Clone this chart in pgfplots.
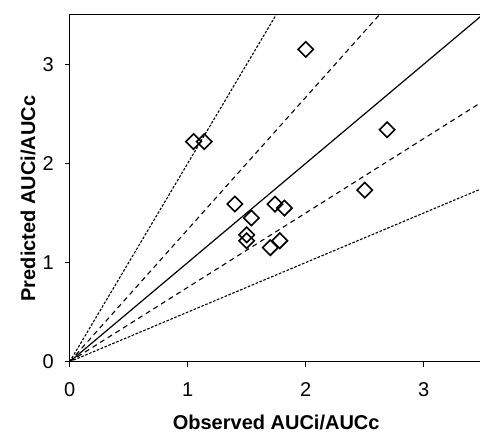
\documentclass[border=0pt]{standalone}
\usepackage{fontspec}
\setmainfont{Liberation Sans}
\usepackage{pgfplots}
\pgfplotsset{compat=1.18}

\pgfplotstableread{
x     y
1.05  2.22
1.14  2.22
2.00  3.15
2.69  2.34
2.50  1.73
1.40  1.59
1.54  1.45
1.74  1.59
1.82  1.55
1.50  1.28
1.50  1.22
1.70  1.15
1.78  1.22
}\obspred

\begin{document}
\begin{tikzpicture}
\begin{axis}[
  scale only axis,
  width=206.5pt, height=173.5pt,
  xmin=0, xmax=3.5, ymin=0, ymax=3.5,
  xtick={0,1,2,3}, ytick={0,1,2,3},
  tick align=outside,
  xtick pos=bottom, ytick pos=left,
  major tick length=2.5pt,
  axis line style={line width=0.75pt},
  every tick/.style={black, line width=0.75pt},
  /pgf/number format/assume math mode=true,
  tick label style={font=\fontsize{10}{12}\selectfont},
  xticklabel style={yshift=-4.5pt},
  yticklabel style={xshift=-2pt},
  label style={font=\fontsize{10}{12}\selectfont\bfseries},
  xlabel={Observed AUCi/AUCc},
  ylabel={Predicted AUCi/AUCc},
  xlabel style={at={(axis description cs:0.5,-0.194)}, anchor=base},
  ylabel style={at={(axis description cs:-0.084,0.47)}, anchor=base},
  clip=true,
]
% reference lines through the origin
\addplot[black, line width=0.55pt, dash pattern=on 1.3pt off 0.8pt] coordinates {(0,0) (1.75,3.5)};
\addplot[black, line width=0.55pt, dash pattern=on 2.5pt off 2pt] coordinates {(0,0) (2.625,3.5)};
\addplot[black, line width=0.6pt] coordinates {(0,0) (3.5,3.5)};
\addplot[black, line width=0.55pt, dash pattern=on 2.5pt off 2pt] coordinates {(0,0) (3.5,2.625)};
\addplot[black, line width=0.55pt, dash pattern=on 1.3pt off 0.8pt] coordinates {(0,0) (3.5,1.75)};
% data
\addplot[only marks, mark=square, mark size=2.7pt,
  mark options={rotate=45, line width=0.8pt, fill=white, draw=black}]
  table[x=x, y=y] {\obspred};
\end{axis}
\pgfresetboundingbox
\path[use as bounding box]
  ([xshift=-34.85pt, yshift=-35.15pt]current axis.south west)
  rectangle ([xshift=-1.35pt, yshift=7.35pt]current axis.north east);
\end{tikzpicture}
\end{document}
